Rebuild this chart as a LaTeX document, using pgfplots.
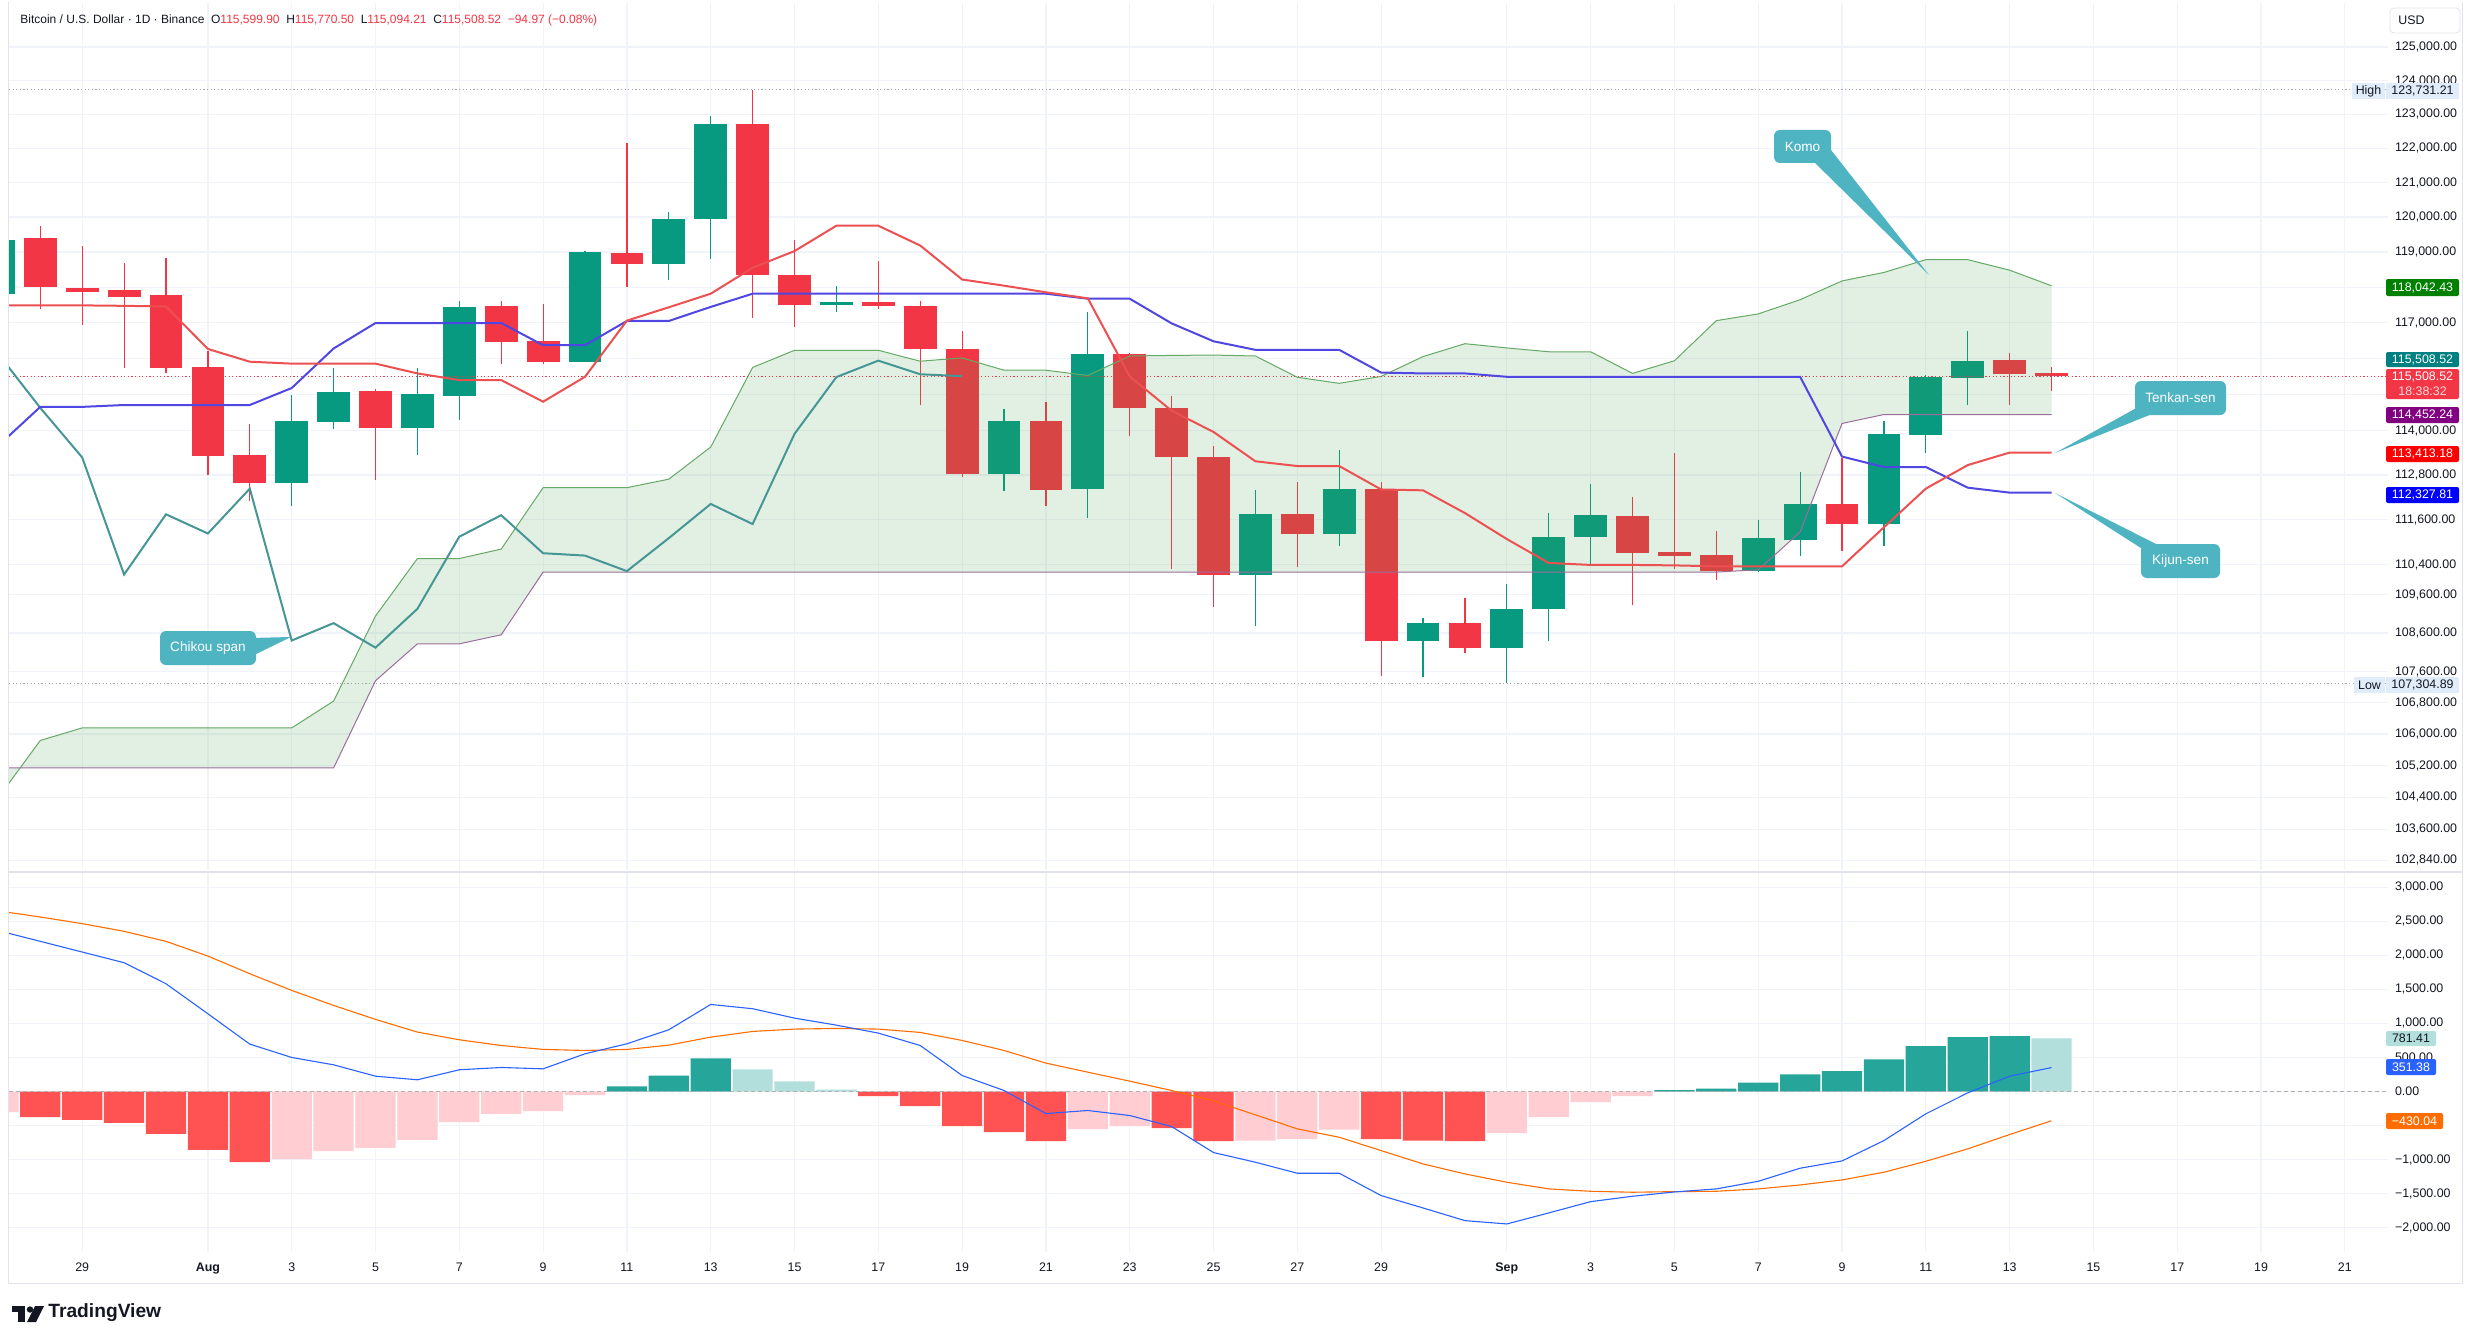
\documentclass[border=0pt]{standalone}
\usepackage{fontspec}
\setmainfont{Liberation Sans}
\usepackage{pgfplots}
\pgfplotsset{compat=1.18}
\usepackage{pgfplotstable}
\definecolor{upc}{RGB}{8,153,129}
\definecolor{dnc}{RGB}{242,54,69}
\definecolor{gridc}{RGB}{240,243,250}
\definecolor{tkc}{RGB}{236,80,80}
\definecolor{kjc}{RGB}{80,70,225}
\definecolor{chc}{RGB}{70,150,150}
\definecolor{sac}{RGB}{100,170,100}
\definecolor{sbc}{RGB}{155,110,155}
\definecolor{kumo}{RGB}{67,160,71}
\definecolor{hsr}{RGB}{255,82,82}
\definecolor{hlr}{RGB}{255,205,210}
\definecolor{hsg}{RGB}{38,166,154}
\definecolor{hlg}{RGB}{178,223,219}
\definecolor{macdc}{RGB}{41,98,255}
\definecolor{sigc}{RGB}{255,109,0}
\definecolor{callc}{RGB}{78,180,194}
\definecolor{txt}{RGB}{19,23,34}
\definecolor{hilo}{RGB}{225,236,250}
\definecolor{frame}{RGB}{224,227,235}

\pgfplotstableread{
i o h l c
-2 117810 119800 117400 119360
5 112574 114984 111966 114270
6 114244 115745 114052 115075
8 114090 115732 113355 115010
9 114971 117606 114309 117446
12 115915 119038 115900 118998
14 118649 120153 118191 119963
15 119963 122942 118796 122705
18 117486 118045 117316 117593
22 112843 114594 112371 114270
24 112434 117316 111658 116122
28 110116 112384 108777 111743
30 111231 113484 110891 112434
32 108409 109011 107455 108863
34 108225 109880 107304.89 109234
35 109234 111768 108384 111143
36 111143 112561 110414 111718
40 110228 111579 110203 111105
41 111068 112878 110617 112023
43 111481 114270 110891 113921
44 113882 115536 113406 115484
45 115471 116768 114724 115939
}\upc

\pgfplotstableread{
i o h l c
-1 119403 119741 117392 118018
0 117991 119186 116929 117870
1 117911 118689 115745 117738
2 117778 118823 115588 115745
3 115758 116201 112792 113331
4 113342 114180 112092 112574
7 115088 115153 112677 114090
10 117473 117619 115862 116464
11 116477 117513 115836 115915
13 118985 122149 118018 118649
16 122705 123731.21 117130 118354
17 118340 119350 116891 117486
19 117593 118743 117382 117460
20 117473 117619 114698 116254
21 116267 116754 112741 112843
23 114270 114789 111979 112409
25 116122 116162 113857 114633
26 114633 114958 110290 113278
27 113278 113589 109295 110141
29 111743 112625 110328 111231
31 112434 112600 107491 108409
33 108863 109519 108091 108225
37 111693 112205 109332 110705
38 110730 113406 110290 110643
39 110668 111307 110004 110228
42 112023 113265 110767 111481
46 115952 116162 114724 115562
47 115599.90 115770.50 115094.21 115508.52
}\dnc

\pgfplotstableread{
i tk kj sa sb
-2 117486 113600 104400 105145
-1 117486 114660 105838 105145
0 117486 114660 106162 105145
1 117473 114712 106162 105145
2 117459 114712 106162 105145
3 116268 114712 106162 105145
4 115911 114712 106162 105145
5 115858 115180 106162 105145
6 115858 116281 106845 105145
7 115858 116994 109049 107370
8 115583 116994 110564 108323
9 115401 116994 110564 108323
10 115401 116994 110816 108557
11 114803 116373 112461 110205
12 115492 116373 112461 110205
13 117060 117047 112461 110205
14 117433 117047 112689 110205
15 117818 117446 113561 110205
16 118553 117818 115752 110205
17 119026 117818 116228 110205
18 119755 117818 116228 110205
19 119755 117818 116228 110205
20 119188 117818 115924 110205
21 118218 117818 116017 110205
22 118045 117818 115674 110205
23 117858 117818 115674 110205
24 117686 117672 115531 110205
25 115505 117672 116070 110205
26 114556 116981 116083 110205
27 113974 116479 116096 110205
28 113174 116241 116070 110205
29 113045 116241 115479 110205
30 113045 116241 115310 110205
31 112410 115609 115505 110205
32 112385 115583 116056 110205
33 111779 115583 116413 110205
34 111081 115492 116294 110205
35 110446 115492 116188 110205
36 110396 115492 116188 110205
37 110396 115492 115583 110205
38 110384 115492 115937 110205
39 110358 115492 117060 110205
40 110358 115492 117247 110268
41 110358 115492 117646 111270
42 110358 113303 118178 114205
43 111394 113019 118420 114452.24
44 112435 113019 118783 114452.24
45 113071 112461 118783 114452.24
46 113413.18 112328 118486 114452.24
47 113413.18 112327.81 118042.43 114452.24
}\ichi

% outline of the cloud: span A forward, span B backward
\pgfplotstableread{
i p
-2 104400
-1 105838
0 106162
5 106162
6 106845
7 109049
8 110564
9 110564
10 110816
11 112461
13 112461
14 112689
15 113561
16 115752
17 116228
19 116228
20 115924
21 116017
22 115674
23 115674
24 115531
25 116070
26 116083
27 116096
28 116070
29 115479
30 115310
31 115505
32 116056
33 116413
34 116294
35 116188
36 116188
37 115583
38 115937
39 117060
40 117247
41 117646
42 118178
43 118420
44 118783
45 118783
46 118486
47 118042.43
47 114452.24
43 114452.24
42 114205
41 111270
40 110268
39 110205
11 110205
10 108557
9 108323
8 108323
7 107370
6 105145
-2 105145
}\cloud

\pgfplotstableread{
i ch
-2 116122
-1 114633
0 113278
1 110141
2 111743
3 111231
4 112434
5 108409
6 108863
7 108225
8 109234
9 111143
10 111718
11 110705
12 110643
13 110228
14 111105
15 112023
16 111481
17 113921
18 115484
19 115939
20 115562
21 115508.52
}\chikou

\pgfplotstableread{
x high low last
-1.747 123731.21 107304.89 115508.52
55.03 123731.21 107304.89 115508.52
}\reflines

\pgfplotstableread{
i macd sig
-2 2363 2652
-1 2206 2564
0 2049 2466
1 1892 2353
2 1583 2206
3 1142 1990
4 696 1730
5 500 1485
6 392 1265
7 225 1059
8 172 873
9 319 760
10 353 676
11 333 618
12 554 603
13 701 618
14 907 681
15 1279 799
16 1216 882
17 1078 917
18 975 926
19 858 917
20 676 868
21 235 750
22 15 603
23 -324 417
24 -279 284
25 -353 152
26 -515 15
27 -897 -137
28 -1039 -343
29 -1201 -549
30 -1201 -672
31 -1529 -868
32 -1711 -1064
33 -1897 -1211
34 -1946 -1333
35 -1784 -1431
36 -1618 -1466
37 -1539 -1480
38 -1476 -1471
39 -1431 -1466
40 -1319 -1431
41 -1127 -1373
42 -1020 -1299
43 -721 -1186
44 -328 -1025
45 -20 -843
46 225 -632
47 351.38 -430.04
}\macdt

\newcommand{\lblfont}{\fontsize{6.2}{7}\selectfont}

\pgfplotsset{
  mainpane/.style={
    at={(4.5pt,-1.5pt)}, anchor=north west,
    scale only axis, width=1189.5pt, height=433.5pt,
    xmin=-1.747, xmax=55.03,
    ymin=11.538554, ymax=11.746629,
    axis line style={draw=none}, tick style={draw=none},
    clip=true},
  bare/.style={xtick=\empty, ytick=\empty},
  candle/.style 2 args={only marks, mark=*, mark size=0pt, mark options={draw=none, fill=none},
    error bars/.cd, y dir=plus, y explicit, error mark=none,
    error bar style={draw=#1, line width=#2}},
}

\begin{document}
\begin{tikzpicture}
\path[use as bounding box, fill=white] (0,0) rectangle (1237.5pt,-671.5pt);

% ---------------- main price pane: grid, scale (y = ln price) ----------------
\begin{axis}[mainpane,
  xtick={0,3,5,7,9,11,13,15,17,19,21,23,25,27,29,31,34,36,38,40,42,44,46,48,50,52,54},
  xticklabels={},
  ytick={11.540929,11.548292,11.555985,11.563618,11.571194,11.578713,11.586176,11.595426,11.604592,11.611865,11.622676,11.633371,11.643953,11.652687,11.661345,11.669929,11.678439,11.686878,11.695247,11.703545,11.711776,11.719939,11.728036,11.736069},
  yticklabels={{102,840.00},{103,600.00},{104,400.00},{105,200.00},{106,000.00},{106,800.00},{107,600.00},{108,600.00},{109,600.00},{110,400.00},{111,600.00},{112,800.00},{114,000.00},{},{},{117,000.00},{},{119,000.00},{120,000.00},{121,000.00},{122,000.00},{123,000.00},{124,000.00},{125,000.00}},
  yticklabel pos=right,
  yticklabel style={anchor=west, font=\lblfont, text=txt},
  xmajorgrids, ymajorgrids,
  major grid style={draw=gridc, line width=0.6pt},
]
\addplot[draw=gray!70, line width=0.5pt, dash pattern=on 0.6pt off 1.2pt] table[x=x, y expr=ln(\thisrow{high})] {\reflines};
\addplot[draw=gray!70, line width=0.5pt, dash pattern=on 0.6pt off 1.2pt] table[x=x, y expr=ln(\thisrow{low})] {\reflines};
\end{axis}

% ---------------- candles ----------------
\begin{axis}[mainpane, bare]
\addplot[candle={upc}{0.6pt}]
  table[x=i, y expr=ln(\thisrow{l}), y error plus expr=ln(\thisrow{h})-ln(\thisrow{l})] {\upc};
\addplot[candle={dnc}{0.6pt}]
  table[x=i, y expr=ln(\thisrow{l}), y error plus expr=ln(\thisrow{h})-ln(\thisrow{l})] {\dnc};
\addplot[candle={upc}{16.4pt}]
  table[x=i, y expr=ln(\thisrow{o}), y error plus expr=ln(\thisrow{c})-ln(\thisrow{o})] {\upc};
\addplot[candle={dnc}{16.4pt}]
  table[x=i, y expr=ln(\thisrow{c}), y error plus expr=ln(\thisrow{o})-ln(\thisrow{c})] {\dnc};
\end{axis}

% ---------------- ichimoku ----------------
\begin{axis}[mainpane, bare]
\addplot[fill=kumo, fill opacity=0.15, draw=none] table[x=i, y expr=ln(\thisrow{p})] {\cloud};
\addplot[draw=sac, line width=0.5pt] table[x=i, y expr=ln(\thisrow{sa})] {\ichi};
\addplot[draw=sbc, line width=0.5pt] table[x=i, y expr=ln(\thisrow{sb})] {\ichi};
\addplot[draw=dnc, line width=0.5pt, dash pattern=on 0.6pt off 1.2pt] table[x=x, y expr=ln(\thisrow{last})] {\reflines};
\addplot[draw=chc, line width=1pt] table[x=i, y expr=ln(\thisrow{ch})] {\chikou};
\addplot[draw=kjc, line width=1pt] table[x=i, y expr=ln(\thisrow{kj})] {\ichi};
\addplot[draw=tkc, line width=1pt] table[x=i, y expr=ln(\thisrow{tk})] {\ichi};
\end{axis}

% ---------------- MACD pane ----------------
\begin{axis}[
  at={(4.5pt,-436.5pt)}, anchor=north west,
  scale only axis, width=1189.5pt, height=189.5pt,
  xmin=-1.747, xmax=55.03, ymin=-2358, ymax=3210,
  axis line style={draw=none}, tick style={draw=none},
  xtick={0,3,5,7,9,11,13,15,17,19,21,23,25,27,29,31,34,36,38,40,42,44,46,48,50,52,54},
  xticklabels={29,\textbf{Aug},3,5,7,9,11,13,15,17,19,21,23,25,27,29,\textbf{Sep},3,5,7,9,11,13,15,17,19,21},
  xticklabel style={font=\lblfont, text=txt, yshift=-2pt},
  ytick={-2000,-1500,-1000,-500,0,500,1000,1500,2000,2500,3000},
  yticklabels={{−2,000.00},{−1,500.00},{−1,000.00},{},{0.00},{500.00},{1,000.00},{1,500.00},{2,000.00},{2,500.00},{3,000.00}},
  yticklabel pos=right,
  yticklabel style={anchor=west, font=\lblfont, text=txt},
  xmajorgrids, ymajorgrids,
  major grid style={draw=gridc, line width=0.6pt},
  clip=true,
]
\addplot[ybar, bar width=0.96, bar shift=0pt, fill=hsr, draw=none] coordinates {(-1,-377) (0,-417) (1,-461) (2,-623) (3,-858) (4,-1039) (19,-69) (20,-216) (21,-510) (22,-598) (23,-730) (26,-539) (27,-730) (31,-701) (32,-720) (33,-730)};
\addplot[ybar, bar width=0.96, bar shift=0pt, fill=hlr, draw=none] coordinates {(-2,-304) (5,-995) (6,-877) (7,-828) (8,-711) (9,-451) (10,-328) (11,-289) (12,-54) (24,-554) (25,-510) (28,-720) (29,-701) (30,-559) (34,-613) (35,-377) (36,-157) (37,-69)};
\addplot[ybar, bar width=0.96, bar shift=0pt, fill=hsg, draw=none] coordinates {(13,74) (14,235) (15,485) (38,20) (39,44) (40,132) (41,250) (42,299) (43,471) (44,667) (45,799) (46,814)};
\addplot[ybar, bar width=0.96, bar shift=0pt, fill=hlg, draw=none] coordinates {(16,324) (17,147) (18,29) (47,781.41)};
\addplot[draw=gray!60, line width=0.5pt, dash pattern=on 2pt off 1.5pt] coordinates {(-1.747,0) (55.03,0)};
\addplot[draw=sigc, line width=0.55pt] table[x=i, y=sig] {\macdt};
\addplot[draw=macdc, line width=0.55pt] table[x=i, y=macd] {\macdt};
\end{axis}

% ---------------- overlays (pixel units) ----------------
\begin{scope}[x=0.5pt, y=-0.5pt]
\draw[frame, line width=0.5pt] (8,2) -- (8,1283) -- (2462,1283) -- (2462,2);
\draw[frame, line width=0.6pt] (8,872) -- (2462,872);
\node[anchor=west, inner sep=0, font=\fontsize{6.0}{7}\selectfont, text=txt] at (20,20)
  {Bitcoin / U.S. Dollar · 1D · Binance\ \ O\textcolor{dnc}{115,599.90}\ \ H\textcolor{dnc}{115,770.50}\ \ L\textcolor{dnc}{115,094.21}\ \ C\textcolor{dnc}{115,508.52}\ \ \textcolor{dnc}{−94.97 (−0.08\%)}};
\draw[frame, fill=white, rounded corners=2pt] (2390,8) rectangle (2460,33);
\node[anchor=west, inner sep=0, font=\lblfont, text=txt] at (2398,20.5) {USD};
\fill[hilo] (2352,83) rectangle (2385,99);
\fill[hilo] (2386,83) rectangle (2459,99);
\node[font=\lblfont, text=txt, inner sep=0] at (2368.5,91) {High};
\node[font=\lblfont, text=txt, inner sep=0] at (2422.5,91) {123,731.21};
\fill[hilo] (2354,677) rectangle (2385,693);
\fill[hilo] (2386,677) rectangle (2459,693);
\node[font=\lblfont, text=txt, inner sep=0] at (2369.5,685) {Low};
\node[font=\lblfont, text=txt, inner sep=0] at (2422.5,685) {107,304.89};
\fill[rounded corners=1pt, fill={rgb,255:red,0;green,128;blue,0}] (2386,279) rectangle (2459,296);
\node[font=\lblfont, text=white, inner sep=0] at (2422.5,287.5) {118,042.43};
\fill[rounded corners=1pt, fill={rgb,255:red,0;green,128;blue,128}] (2386,352) rectangle (2459,367);
\node[font=\lblfont, text=white, inner sep=0] at (2422.5,359.5) {115,508.52};
\fill[rounded corners=1pt, fill=dnc] (2386,369) rectangle (2459,399);
\node[font=\lblfont, text=white, inner sep=0] at (2422.5,377) {115,508.52};
\node[font=\lblfont, text=white!80!dnc, inner sep=0] at (2422.5,391) {18:38:32};
\fill[rounded corners=1pt, fill={rgb,255:red,128;green,0;blue,128}] (2386,407) rectangle (2459,423);
\node[font=\lblfont, text=white, inner sep=0] at (2422.5,415) {114,452.24};
\fill[rounded corners=1pt, fill={rgb,255:red,255;green,0;blue,0}] (2386,446) rectangle (2459,462);
\node[font=\lblfont, text=white, inner sep=0] at (2422.5,454) {113,413.18};
\fill[rounded corners=1pt, fill={rgb,255:red,0;green,0;blue,255}] (2386,487) rectangle (2459,503);
\node[font=\lblfont, text=white, inner sep=0] at (2422.5,495) {112,327.81};
\fill[rounded corners=1pt, fill=hlg] (2386,1031) rectangle (2436,1046);
\node[font=\lblfont, text=txt, inner sep=0] at (2411,1038.5) {781.41};
\fill[rounded corners=1pt, fill=macdc] (2386,1059) rectangle (2436,1075);
\node[font=\lblfont, text=white, inner sep=0] at (2411,1067) {351.38};
\fill[rounded corners=1pt, fill=sigc] (2386,1113) rectangle (2443,1129);
\node[font=\lblfont, text=white, inner sep=0] at (2414.5,1121) {−430.04};
\fill[callc] (1812,160) -- (1831,150) -- (1929,275) -- cycle;
\fill[callc, rounded corners=3pt] (1774,130) rectangle (1831,163);
\node[font=\fontsize{6.8}{8}\selectfont, text=white] at (1802.5,146.5) {Komo};
\fill[callc] (250,638) -- (250,657) -- (291,637) -- cycle;
\fill[callc, rounded corners=3pt] (160,631) rectangle (256,665);
\node[font=\fontsize{6.8}{8}\selectfont, text=white] at (208,648) {Chikou span};
\fill[callc] (2140,406) -- (2152,414) -- (2055,453) -- cycle;
\fill[callc, rounded corners=3pt] (2135,381) rectangle (2226,415);
\node[font=\fontsize{6.8}{8}\selectfont, text=white] at (2180.5,398) {Tenkan-sen};
\fill[callc] (2144,550) -- (2158,545) -- (2055,493) -- cycle;
\fill[callc, rounded corners=3pt] (2141,544) rectangle (2220,578);
\node[font=\fontsize{6.8}{8}\selectfont, text=white] at (2180.5,561) {Kijun-sen};
\fill[txt] (12,1306) rectangle (25,1312);
\fill[txt] (18,1306) rectangle (25,1322);
\fill[txt] (30,1309.5) circle (3.2);
\fill[txt] (27,1322) -- (35,1306) -- (44,1306) -- (36,1322) -- cycle;
\node[anchor=west, inner sep=0, font=\fontsize{9.6}{11}\selectfont\bfseries, text=txt] at (48,1313) {TradingView};
\end{scope}
\end{tikzpicture}
\end{document}
